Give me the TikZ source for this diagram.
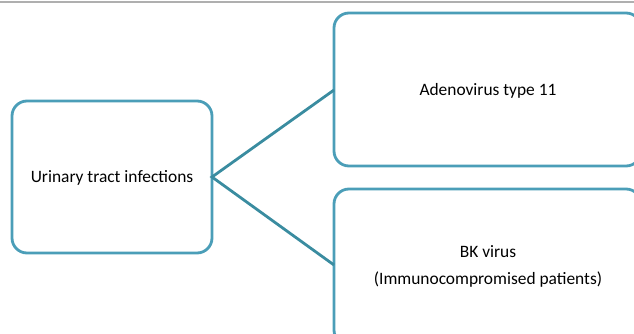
\documentclass[tikz,border=0pt]{standalone}
\usepackage{fontspec}
\setmainfont{Carlito}
\definecolor{boxline}{RGB}{75,158,184}
\definecolor{linkline}{RGB}{58,140,160}
\definecolor{rulegray}{RGB}{175,175,175}
\begin{document}
\begin{tikzpicture}[x=1pt,y=-1pt,
  card/.style={draw=boxline, line width=2.8pt, rounded corners=15pt, fill=white},
  link/.style={draw=linkline, line width=2.8pt},
  label/.style={font=\fontsize{17.4}{21}\selectfont, align=center, text=black}]
  \useasboundingbox (0,0) rectangle (634,334);
  \begin{scope}
    \clip (0,0) rectangle (634,334);
    % top rule
    \draw[rulegray, line width=1.2pt] (0,2) -- (634,2);
    % boxes
    \draw[card] (12,101) rectangle (212,253);
    \draw[card] (334,13) rectangle (641,166);
    \draw[card] (334,189) rectangle (641,345);
    \node[label] (uti) at (112,178) {Urinary tract infections};
    \node[label] (adeno) at (488,91) {Adenovirus type 11};
    \node[label] (bk) at (488,266) {BK virus\\[6pt](Immunocompromised patients)};
    % connectors
    \coordinate (src) at (212,177);
    \coordinate (dstA) at (334,90);
    \coordinate (dstB) at (334,265);
    \draw[link] (dstA) -- (src) -- (dstB);
  \end{scope}
\end{tikzpicture}
\end{document}
